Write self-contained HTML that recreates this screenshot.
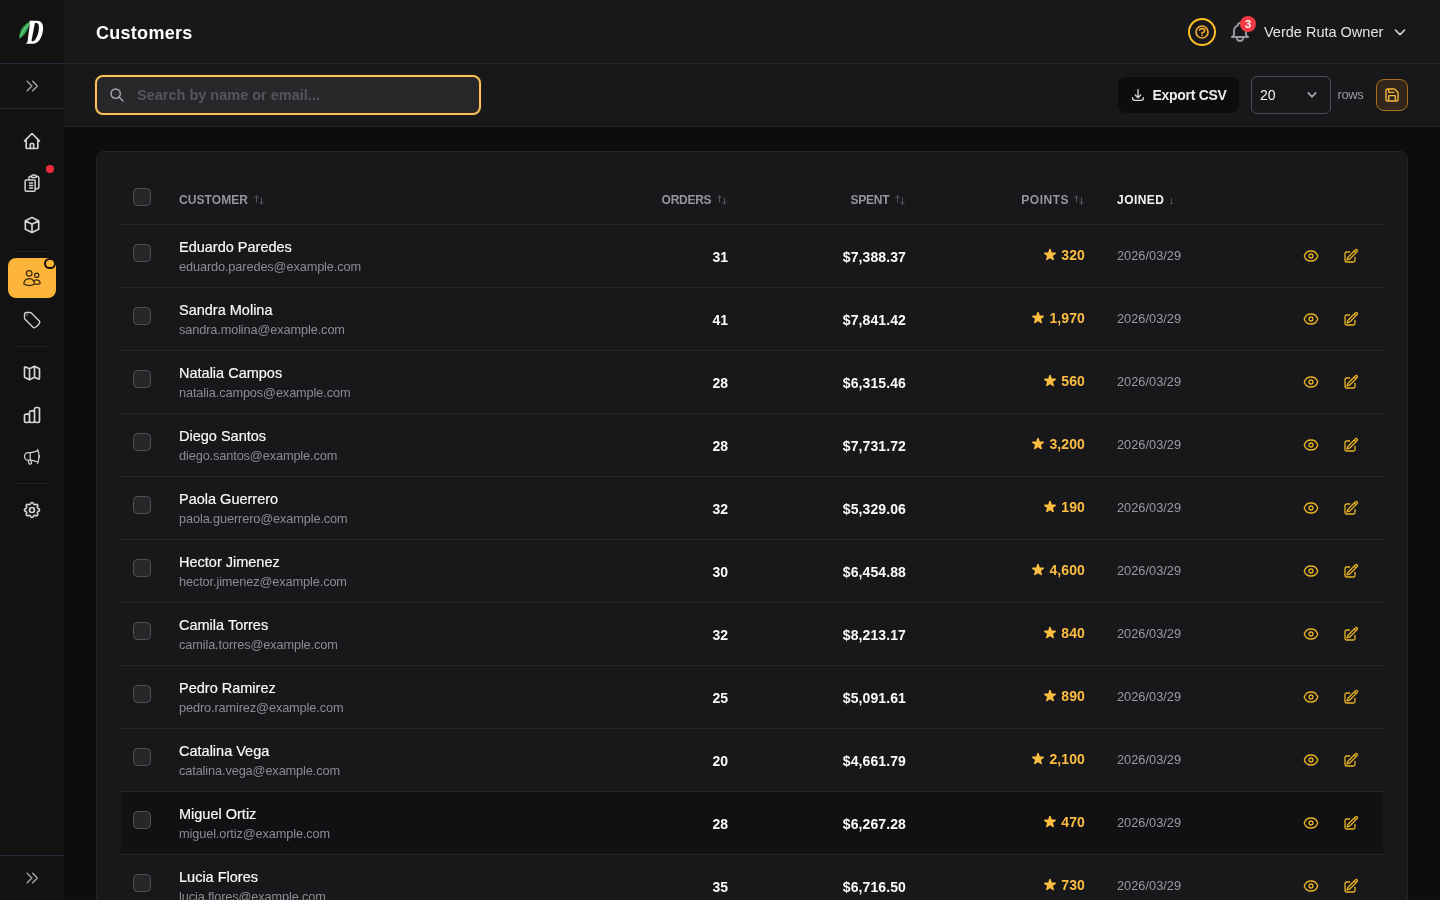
<!DOCTYPE html>
<html lang="en">
<head>
<meta charset="utf-8">
<title>Customers</title>
<style>
*{box-sizing:border-box;margin:0;padding:0}
html,body{width:1440px;height:900px;overflow:hidden;background:#0d0d0f;color:#fafafa;font-family:"Liberation Sans",sans-serif;}
#app{position:absolute;left:0;top:0;width:1440px;height:900px;overflow:hidden;will-change:transform}
svg{display:block}
.ico{fill:none;stroke:currentColor;stroke-width:1.5;stroke-linecap:round;stroke-linejoin:round}

/* ---------- sidebar ---------- */
#side{position:absolute;left:0;top:0;width:64px;height:900px;background:#121212;}
#side .logo{position:absolute;left:0;top:0;width:64px;height:64px;border-bottom:1px solid #202b37;}
#side .exp{position:absolute;left:0;top:64px;width:64px;height:45px;border-bottom:1px solid #202b37;color:#a6a6aa}
#side .exp svg{position:absolute;left:24px;top:14px}
#side .exp2{position:absolute;left:0;top:855px;width:64px;height:45px;border-top:1px solid #202b37;color:#a6a6aa}
#side .exp2 svg{position:absolute;left:24px;top:14px}
.nav{position:absolute;left:8px;width:48px;height:40px;border-radius:8px;color:#d4d4d8}
.nav svg{position:absolute;left:14px;top:10px}
.nav.act{background:#fcb43b;color:#3a2c12}
.sep{position:absolute;left:16px;width:32px;height:1px;background:#222226}
.rdot{position:absolute;left:46px;top:165px;width:8px;height:8px;border-radius:50%;background:#f02c3c}
.adot{position:absolute;left:44px;top:257.8px;width:11.5px;height:11.5px;border-radius:50%;background:#fcb43b;border:2px solid #17130a}

/* ---------- header ---------- */
#head{position:absolute;left:64px;top:0;width:1376px;height:64px;background:#18181b;border-bottom:1px solid #27272a}
#head h1{position:absolute;left:32px;top:21px;font-size:18px;line-height:24px;font-weight:700;color:#fff;white-space:nowrap;letter-spacing:.28px}
.help{position:absolute;left:1124px;top:18px;width:28px;height:28px;border-radius:50%;border:2px solid #fbbf24;color:#f0a92e}
.help svg{position:absolute;left:4px;top:4px}
.bell{position:absolute;left:1164px;top:20px;color:#96969e}
.badge{position:absolute;left:1176px;top:16px;width:16px;height:16px;border-radius:50%;background:#f03a44;color:#fff;font-size:11px;font-weight:700;line-height:16px;text-align:center}
.user{position:absolute;left:1200px;top:22px;font-size:14.5px;line-height:20px;color:#e4e4e7;white-space:nowrap}
.uchev{position:absolute;left:1328px;top:23.7px;color:#d4d4d8}

/* ---------- toolbar ---------- */
#tool{position:absolute;left:64px;top:64px;width:1376px;height:63px;background:#18181b;border-bottom:1px solid #27272a}
.search{position:absolute;left:31px;top:11px;width:386px;height:40px;border-radius:8px;border:2px solid #f2c263;background:#28282b;box-shadow:0 0 0 1px rgba(70,35,0,.55),inset 0 0 0 1px rgba(70,35,0,.45)}
.search svg{position:absolute;left:11.5px;top:10px;color:#a6a6ae}
.search span{position:absolute;left:40px;top:8px;font-size:14.5px;line-height:20px;font-weight:700;color:#55555e;white-space:nowrap}
.export{position:absolute;left:1054px;top:13px;width:121px;height:36px;border-radius:8px;background:#0d0d0f;color:#fff}
.export svg{position:absolute;left:12px;top:10px;color:#d8d8dc}
.export span{position:absolute;left:34.5px;top:8px;font-size:14px;line-height:20px;font-weight:700;white-space:nowrap;letter-spacing:-.3px;color:#ececee}
.sel{position:absolute;left:1187px;top:12px;width:80px;height:38px;border-radius:6px;border:1px solid #4a4a52;background:#18181b;color:#f4f4f5}
.sel span{position:absolute;left:8px;top:8px;font-size:14px;line-height:20px}
.sel svg{position:absolute;left:54px;top:12px;color:#a1a1aa}
.rows{position:absolute;left:1273.5px;top:22px;letter-spacing:-.4px;font-size:13px;line-height:18px;color:#9a9aa3}
.save{position:absolute;left:1312px;top:15px;width:32px;height:32px;border-radius:8px;border:1px solid #a8721c;background:#33261a;color:#f7b53b}
.save svg{position:absolute;left:7px;top:7px}

/* ---------- card/table ---------- */
#card{position:absolute;left:96px;top:151px;width:1312px;height:800px;background:#18181b;border:1px solid #242428;border-radius:8px}
.row{position:absolute;left:24px;width:1262px;height:63px;border-bottom:1px solid #27272a}
.row.hov{background:#111113}
.hrow{position:absolute;left:24px;top:24px;width:1262px;height:49px;border-bottom:1px solid #27272a}
.cb{position:absolute;left:12px;width:18px;height:18px;border-radius:4.5px;background:#27272a;border:1px solid #505057}
.row .cb{top:19px}
.hrow .cb{top:12px}
.th{position:absolute;top:16px;font-size:12px;line-height:16px;font-weight:700;color:#9494a0;white-space:nowrap}
.si{position:absolute;top:18.3px;color:#56565f}
.th.on{color:#f4f4f5}
.r{text-align:right}
.nm{position:absolute;left:58px;top:12px;font-size:14.5px;line-height:20px;color:#fafafa;white-space:nowrap;-webkit-text-stroke:.18px #fafafa}
.em{position:absolute;left:58px;top:33.5px;font-size:12.75px;line-height:16px;letter-spacing:-.12px;color:#8b8b95;white-space:nowrap}
.num{position:absolute;top:22px;font-size:14px;line-height:20px;font-weight:700;color:#fafafa;white-space:nowrap;text-align:right}
.ord{right:655px}
.spn{right:477px;letter-spacing:.1px}
.pts{right:298px;top:20px;color:#fcbd40;letter-spacing:.1px}
.pts svg{position:absolute;left:-19.7px;top:2.2px}
.dt{position:absolute;left:996px;top:22.6px;font-size:12.8px;line-height:16px;color:#9a9aa3;white-space:nowrap}
.eye{position:absolute;left:1182px;top:23px;color:#e8b323}
.edt{position:absolute;left:1222px;top:23px;color:#e8b323}
.dn{position:absolute;left:1047.8px;top:16px;font-size:11px;line-height:16px;color:#7c7c86}
</style>
</head>
<body>
<div id="app">
<div id="side">
<div class="logo"><svg width="64" height="64" viewBox="0 0 64 64"><path d="M19.2 38.8C18.8 30.5 22.8 22.8 33.2 20.8C30.4 23 29.2 26.2 27.8 29.4C26.2 33 23.4 36.4 19.2 38.8Z" fill="#1b7a33"/><path d="M20 37.4C20.6 31 24.4 25 31.4 22C29.2 24.2 28.2 26.8 27 29.4C25.6 32.4 23.4 35.2 20 37.4Z" fill="#3cae58"/><path d="M20.2 37.2C22 31.6 25.4 25.8 31 21.8" fill="none" stroke="#7fe096" stroke-width="1.2" stroke-linecap="round" opacity=".7"/><path fill="#fff" fill-rule="evenodd" d="M29.6 20.8H37C41.3 20.8 43.5 24 43.1 29C42.5 37 38.6 43.8 33 43.8H26.1L26.3 42.8L27.4 42.5L30.1 22.1L29.4 21.7ZM34.9 23.1L31.6 40.2C31.5 40.9 31.8 41.3 32.5 41.3C35.8 41.3 38.5 34 38.9 28.4C39.1 25.2 38.4 23.1 36.7 23.1Z"/></svg>
</div>
<div class="exp"><svg class="ico" width="16" height="16" viewBox="0 0 16 16" style="stroke-width:1.4"><path d="M3.2 3.25 7.9 8 3.2 12.75M8.7 3.25 13.4 8 8.7 12.75"/></svg></div>
<div class="nav" style="top:121px"><svg class="ico" width="20" height="20" viewBox="0 0 24 24" style="stroke-width:2"><path d="M3 12l2-2m0 0l7-7 7 7M5 10v10a1 1 0 001 1h3m10-11l2 2m-2-2v10a1 1 0 01-1 1h-3m-6 0a1 1 0 001-1v-4a1 1 0 011-1h2a1 1 0 011 1v4a1 1 0 001 1m-6 0h6"/></svg></div>
<div class="nav" style="top:163px"><svg class="ico" width="20" height="20" viewBox="0 0 24 24" style="stroke-width:1.8"><path d="M9 12h3.75M9 15h3.75M9 18h3.75m3 .75H18a2.25 2.25 0 0 0 2.25-2.25V6.108c0-1.135-.845-2.098-1.976-2.192a48.424 48.424 0 0 0-1.123-.08m-5.801 0c-.065.21-.1.433-.1.664 0 .414.336.75.75.75h4.5a.75.75 0 0 0 .75-.75 2.25 2.25 0 0 0-.1-.664m-5.8 0A2.251 2.251 0 0 1 13.5 2.25H15c1.012 0 1.867.668 2.15 1.586m-5.8 0c-.376.023-.75.05-1.124.08C9.095 4.01 8.25 4.973 8.25 6.108V8.25m0 0H4.875c-.621 0-1.125.504-1.125 1.125v11.25c0 .621.504 1.125 1.125 1.125h9.75c.621 0 1.125-.504 1.125-1.125V9.375c0-.621-.504-1.125-1.125-1.125H8.25Z"/></svg></div>
<div class="nav" style="top:205px"><svg class="ico" width="20" height="20" viewBox="0 0 24 24" style="stroke-width:2"><path d="M20 7l-8-4-8 4m16 0l-8 4m8-4v10l-8 4m0-10L4 7m8 4v10M4 7v10l8 4"/></svg></div>
<div class="nav act" style="top:258px"><svg class="ico" width="20" height="20" viewBox="0 0 24 24" style="stroke-width:1.5"><path d="M15 19.128a9.38 9.38 0 0 0 2.625.372 9.337 9.337 0 0 0 4.121-.952 4.125 4.125 0 0 0-7.533-2.493M15 19.128v-.003c0-1.113-.285-2.16-.786-3.07M15 19.128v.106A12.318 12.318 0 0 1 8.624 21c-2.331 0-4.512-.645-6.374-1.766l-.001-.109a6.375 6.375 0 0 1 11.964-3.07M12 6.375a3.375 3.375 0 1 1-6.75 0 3.375 3.375 0 0 1 6.75 0Zm8.25 2.25a2.625 2.625 0 1 1-5.25 0 2.625 2.625 0 0 1 5.25 0Z"/></svg></div>
<div class="nav" style="top:300px"><svg class="ico" width="20" height="20" viewBox="0 0 24 24" style="stroke-width:1.6"><path d="M9.568 3H5.25A2.25 2.25 0 0 0 3 5.25v4.318c0 .597.237 1.17.659 1.591l9.581 9.581c.699.699 1.78.872 2.607.33a18.095 18.095 0 0 0 5.223-5.223c.542-.827.369-1.908-.33-2.607L11.16 3.66A2.25 2.25 0 0 0 9.568 3ZM6 6h.008v.008H6V6Z"/></svg></div>
<div class="nav" style="top:353px"><svg class="ico" width="20" height="20" viewBox="0 0 24 24" style="stroke-width:2"><path d="M9 20l-5.447-2.724A1 1 0 013 16.382V5.618a1 1 0 011.447-.894L9 7m0 13l6-3m-6 3V7m6 10l4.553 2.276A1 1 0 0021 18.382V7.618a1 1 0 00-.553-.894L15 4m0 13V4m0 0L9 7"/></svg></div>
<div class="nav" style="top:395px"><svg class="ico" width="20" height="20" viewBox="0 0 24 24" style="stroke-width:2"><path d="M9 19v-6a2 2 0 00-2-2H5a2 2 0 00-2 2v6a2 2 0 002 2h2a2 2 0 002-2zm0 0V9a2 2 0 012-2h2a2 2 0 012 2v10m-6 0a2 2 0 002 2h2a2 2 0 002-2m0 0V5a2 2 0 012-2h2a2 2 0 012 2v14a2 2 0 01-2 2h-2a2 2 0 01-2-2z"/></svg></div>
<div class="nav" style="top:437px"><svg class="ico" width="20" height="20" viewBox="0 0 24 24" style="stroke-width:1.5"><path d="M10.34 15.84c-.688-.06-1.386-.09-2.09-.09H7.5a4.5 4.5 0 1 1 0-9h.75c.704 0 1.402-.03 2.09-.09m0 9.18c.253.962.584 1.892.985 2.783.247.55.06 1.21-.463 1.511l-.657.38c-.551.318-1.26.117-1.527-.461a20.845 20.845 0 0 1-1.44-4.282m3.102.069a18.03 18.03 0 0 1-.59-4.59c0-1.586.205-3.124.59-4.59m0 9.18a23.848 23.848 0 0 1 8.835 2.535M10.34 6.66a23.847 23.847 0 0 0 8.835-2.535m0 0A23.74 23.74 0 0 0 18.795 3m.38 1.125a23.91 23.91 0 0 1 1.014 5.395m-1.014 8.855c-.118.38-.245.754-.38 1.125m.38-1.125a23.91 23.91 0 0 0 1.014-5.395m0-3.46c.495.413.811 1.035.811 1.73 0 .695-.316 1.317-.811 1.73m0-3.46a24.347 24.347 0 0 1 0 3.46"/></svg></div>
<div class="nav" style="top:490px"><svg class="ico" width="20" height="20" viewBox="0 0 24 24" style="stroke-width:2"><path d="M10.325 4.317c.426-1.756 2.924-1.756 3.35 0a1.724 1.724 0 002.573 1.066c1.543-.94 3.31.826 2.37 2.37a1.724 1.724 0 001.065 2.572c1.756.426 1.756 2.924 0 3.35a1.724 1.724 0 00-1.066 2.573c.94 1.543-.826 3.31-2.37 2.37a1.724 1.724 0 00-2.572 1.065c-.426 1.756-2.924 1.756-3.35 0a1.724 1.724 0 00-2.573-1.066c-1.543.94-3.31-.826-2.37-2.37a1.724 1.724 0 00-1.065-2.572c-1.756-.426-1.756-2.924 0-3.35a1.724 1.724 0 001.066-2.573c-.94-1.543.826-3.31 2.37-2.37.996.608 2.296.07 2.572-1.065zM15 12a3 3 0 11-6 0 3 3 0 016 0z"/></svg></div>
<div class="sep" style="top:251px"></div>
<div class="sep" style="top:346px"></div>
<div class="sep" style="top:483px"></div>
<div class="rdot"></div><div class="adot"></div>
<div class="exp2"><svg class="ico" width="16" height="16" viewBox="0 0 16 16" style="stroke-width:1.4"><path d="M3.2 3.25 7.9 8 3.2 12.75M8.7 3.25 13.4 8 8.7 12.75"/></svg></div>
</div>
<div id="head">
<h1>Customers</h1>
<div class="help"><svg class="ico" width="16" height="16" viewBox="0 0 24 24" style="stroke-width:2.6"><path d="M8.228 9c.549-1.165 2.03-2 3.772-2 2.21 0 4 1.343 4 3 0 1.400-1.278 2.575-3.006 2.907-.542.104-.994.54-.994 1.093m0 3h.01M21 12a9 9 0 11-18 0 9 9 0 0118 0z"/></svg></div>
<div class="bell"><svg class="ico" width="24" height="24" viewBox="0 0 24 24" style="stroke-width:2"><path d="M15 17h5l-1.405-1.405A2.032 2.032 0 0118 14.158V11a6.002 6.002 0 00-4-5.659V5a2 2 0 10-4 0v.341C7.67 6.165 6 8.388 6 11v3.159c0 .538-.214 1.055-.595 1.436L4 17h5m6 0v1a3 3 0 11-6 0v-1m6 0H9"/></svg></div>
<div class="badge">3</div>
<div class="user">Verde Ruta Owner</div>
<div class="uchev"><svg class="ico" width="16" height="16" viewBox="0 0 24 24" style="stroke-width:2.3"><path d="M19 9l-7 7-7-7"/></svg></div>
</div>
<div id="tool">
<div class="search"><svg class="ico" width="16" height="16" viewBox="0 0 24 24" style="stroke-width:2.1"><path d="M21 21l-6-6m2-5a7 7 0 11-14 0 7 7 0 0114 0z"/></svg><span>Search by name or email...</span></div>
<div class="export"><svg class="ico" width="16" height="16" viewBox="0 0 24 24" style="stroke-width:2"><path d="M4 16v1a3 3 0 003 3h10a3 3 0 003-3v-1m-4-4l-4 4m0 0l-4-4m4 4V4"/></svg><span>Export CSV</span></div>
<div class="sel"><span>20</span><svg class="ico" width="12" height="12" viewBox="0 0 12 12" style="stroke-width:1.9"><path d="M2.3 3.9 6 7.8 9.7 3.9"/></svg></div>
<div class="rows">rows</div>
<div class="save"><svg class="ico" width="16" height="16" viewBox="0 0 24 24" style="stroke-width:2.1"><path d="M15.2 3a2 2 0 0 1 1.4.6l3.8 3.8a2 2 0 0 1 .6 1.4V19a2 2 0 0 1-2 2H5a2 2 0 0 1-2-2V5a2 2 0 0 1 2-2zM17 21v-7a1 1 0 0 0-1-1H8a1 1 0 0 0-1 1v7M7 3v4a1 1 0 0 0 1 1h7"/></svg></div>
</div>
<div id="card">
<div class="hrow"><div class="cb"></div>
<div class="th" style="left:58.00px;letter-spacing:0.08px">CUSTOMER</div><div class="si" style="left:131.75px"><svg class="ico" width="12" height="12" viewBox="0 0 24 24" style="stroke-width:2"><path d="M7 16V4m0 0L3 8m4-4l4 4m6 0v12m0 0l4-4m-4 4l-4-4"/></svg></div>
<div class="th" style="right:671.67px;letter-spacing:-0.27px">ORDERS</div><div class="si" style="left:595.00px"><svg class="ico" width="12" height="12" viewBox="0 0 24 24" style="stroke-width:2"><path d="M7 16V4m0 0L3 8m4-4l4 4m6 0v12m0 0l4-4m-4 4l-4-4"/></svg></div>
<div class="th" style="right:493.75px;letter-spacing:-0.25px">SPENT</div><div class="si" style="left:773.00px"><svg class="ico" width="12" height="12" viewBox="0 0 24 24" style="stroke-width:2"><path d="M7 16V4m0 0L3 8m4-4l4 4m6 0v12m0 0l4-4m-4 4l-4-4"/></svg></div>
<div class="th" style="right:314.00px;letter-spacing:0.5px">POINTS</div><div class="si" style="left:952.00px"><svg class="ico" width="12" height="12" viewBox="0 0 24 24" style="stroke-width:2"><path d="M7 16V4m0 0L3 8m4-4l4 4m6 0v12m0 0l4-4m-4 4l-4-4"/></svg></div>
<div class="th on" style="left:996.00px;letter-spacing:0.46px">JOINED</div><div class="dn">&#8595;</div>
</div>
<div class="row" style="top:73px"><div class="cb"></div><div class="nm">Eduardo Paredes</div><div class="em">eduardo.paredes@example.com</div><div class="num ord">31</div><div class="num spn">$7,388.37</div><div class="num pts"><svg width="16" height="16" viewBox="0 0 20 20" fill="currentColor"><path d="M9.049 2.927c.3-.921 1.603-.921 1.902 0l1.07 3.292a1 1 0 00.95.69h3.462c.969 0 1.371 1.24.588 1.81l-2.8 2.034a1 1 0 00-.364 1.118l1.07 3.292c.3.921-.755 1.688-1.54 1.118l-2.8-2.034a1 1 0 00-1.175 0l-2.8 2.034c-.784.57-1.838-.197-1.539-1.118l1.07-3.292a1 1 0 00-.364-1.118L2.98 8.72c-.783-.57-.38-1.81.588-1.81h3.461a1 1 0 00.951-.69l1.07-3.292z"/></svg>320</div><div class="dt">2026/03/29</div><div class="eye"><svg class="ico" width="16" height="16" viewBox="0 0 24 24" style="stroke-width:1.95"><path d="M2.036 12.322a1.012 1.012 0 0 1 0-.639C3.423 7.51 7.36 4.5 12 4.5c4.638 0 8.573 3.007 9.963 7.178.07.207.07.431 0 .639C20.577 16.49 16.64 19.5 12 19.5c-4.638 0-8.573-3.007-9.963-7.178ZM15 12a3 3 0 1 1-6 0 3 3 0 0 1 6 0Z"/></svg></div><div class="edt"><svg class="ico" width="16" height="16" viewBox="0 0 24 24" style="stroke-width:1.95"><path d="m16.862 4.487 1.687-1.688a1.875 1.875 0 1 1 2.652 2.652L10.582 16.07a4.5 4.5 0 0 1-1.897 1.13L6 18l.8-2.685a4.5 4.5 0 0 1 1.13-1.897l8.932-8.931Zm0 0L19.5 7.125M18 14v4.75A2.25 2.25 0 0 1 15.75 21H5.25A2.25 2.25 0 0 1 3 18.75V8.25A2.25 2.25 0 0 1 5.25 6H10"/></svg></div></div>
<div class="row" style="top:136px"><div class="cb"></div><div class="nm">Sandra Molina</div><div class="em">sandra.molina@example.com</div><div class="num ord">41</div><div class="num spn">$7,841.42</div><div class="num pts"><svg width="16" height="16" viewBox="0 0 20 20" fill="currentColor"><path d="M9.049 2.927c.3-.921 1.603-.921 1.902 0l1.07 3.292a1 1 0 00.95.69h3.462c.969 0 1.371 1.24.588 1.81l-2.8 2.034a1 1 0 00-.364 1.118l1.07 3.292c.3.921-.755 1.688-1.54 1.118l-2.8-2.034a1 1 0 00-1.175 0l-2.8 2.034c-.784.57-1.838-.197-1.539-1.118l1.07-3.292a1 1 0 00-.364-1.118L2.98 8.72c-.783-.57-.38-1.81.588-1.81h3.461a1 1 0 00.951-.69l1.07-3.292z"/></svg>1,970</div><div class="dt">2026/03/29</div><div class="eye"><svg class="ico" width="16" height="16" viewBox="0 0 24 24" style="stroke-width:1.95"><path d="M2.036 12.322a1.012 1.012 0 0 1 0-.639C3.423 7.51 7.36 4.5 12 4.5c4.638 0 8.573 3.007 9.963 7.178.07.207.07.431 0 .639C20.577 16.49 16.64 19.5 12 19.5c-4.638 0-8.573-3.007-9.963-7.178ZM15 12a3 3 0 1 1-6 0 3 3 0 0 1 6 0Z"/></svg></div><div class="edt"><svg class="ico" width="16" height="16" viewBox="0 0 24 24" style="stroke-width:1.95"><path d="m16.862 4.487 1.687-1.688a1.875 1.875 0 1 1 2.652 2.652L10.582 16.07a4.5 4.5 0 0 1-1.897 1.13L6 18l.8-2.685a4.5 4.5 0 0 1 1.13-1.897l8.932-8.931Zm0 0L19.5 7.125M18 14v4.75A2.25 2.25 0 0 1 15.75 21H5.25A2.25 2.25 0 0 1 3 18.75V8.25A2.25 2.25 0 0 1 5.25 6H10"/></svg></div></div>
<div class="row" style="top:199px"><div class="cb"></div><div class="nm">Natalia Campos</div><div class="em">natalia.campos@example.com</div><div class="num ord">28</div><div class="num spn">$6,315.46</div><div class="num pts"><svg width="16" height="16" viewBox="0 0 20 20" fill="currentColor"><path d="M9.049 2.927c.3-.921 1.603-.921 1.902 0l1.07 3.292a1 1 0 00.95.69h3.462c.969 0 1.371 1.24.588 1.81l-2.8 2.034a1 1 0 00-.364 1.118l1.07 3.292c.3.921-.755 1.688-1.54 1.118l-2.8-2.034a1 1 0 00-1.175 0l-2.8 2.034c-.784.57-1.838-.197-1.539-1.118l1.07-3.292a1 1 0 00-.364-1.118L2.98 8.72c-.783-.57-.38-1.81.588-1.81h3.461a1 1 0 00.951-.69l1.07-3.292z"/></svg>560</div><div class="dt">2026/03/29</div><div class="eye"><svg class="ico" width="16" height="16" viewBox="0 0 24 24" style="stroke-width:1.95"><path d="M2.036 12.322a1.012 1.012 0 0 1 0-.639C3.423 7.51 7.36 4.5 12 4.5c4.638 0 8.573 3.007 9.963 7.178.07.207.07.431 0 .639C20.577 16.49 16.64 19.5 12 19.5c-4.638 0-8.573-3.007-9.963-7.178ZM15 12a3 3 0 1 1-6 0 3 3 0 0 1 6 0Z"/></svg></div><div class="edt"><svg class="ico" width="16" height="16" viewBox="0 0 24 24" style="stroke-width:1.95"><path d="m16.862 4.487 1.687-1.688a1.875 1.875 0 1 1 2.652 2.652L10.582 16.07a4.5 4.5 0 0 1-1.897 1.13L6 18l.8-2.685a4.5 4.5 0 0 1 1.13-1.897l8.932-8.931Zm0 0L19.5 7.125M18 14v4.75A2.25 2.25 0 0 1 15.75 21H5.25A2.25 2.25 0 0 1 3 18.75V8.25A2.25 2.25 0 0 1 5.25 6H10"/></svg></div></div>
<div class="row" style="top:262px"><div class="cb"></div><div class="nm">Diego Santos</div><div class="em">diego.santos@example.com</div><div class="num ord">28</div><div class="num spn">$7,731.72</div><div class="num pts"><svg width="16" height="16" viewBox="0 0 20 20" fill="currentColor"><path d="M9.049 2.927c.3-.921 1.603-.921 1.902 0l1.07 3.292a1 1 0 00.95.69h3.462c.969 0 1.371 1.24.588 1.81l-2.8 2.034a1 1 0 00-.364 1.118l1.07 3.292c.3.921-.755 1.688-1.54 1.118l-2.8-2.034a1 1 0 00-1.175 0l-2.8 2.034c-.784.57-1.838-.197-1.539-1.118l1.07-3.292a1 1 0 00-.364-1.118L2.98 8.72c-.783-.57-.38-1.81.588-1.81h3.461a1 1 0 00.951-.69l1.07-3.292z"/></svg>3,200</div><div class="dt">2026/03/29</div><div class="eye"><svg class="ico" width="16" height="16" viewBox="0 0 24 24" style="stroke-width:1.95"><path d="M2.036 12.322a1.012 1.012 0 0 1 0-.639C3.423 7.51 7.36 4.5 12 4.5c4.638 0 8.573 3.007 9.963 7.178.07.207.07.431 0 .639C20.577 16.49 16.64 19.5 12 19.5c-4.638 0-8.573-3.007-9.963-7.178ZM15 12a3 3 0 1 1-6 0 3 3 0 0 1 6 0Z"/></svg></div><div class="edt"><svg class="ico" width="16" height="16" viewBox="0 0 24 24" style="stroke-width:1.95"><path d="m16.862 4.487 1.687-1.688a1.875 1.875 0 1 1 2.652 2.652L10.582 16.07a4.5 4.5 0 0 1-1.897 1.13L6 18l.8-2.685a4.5 4.5 0 0 1 1.13-1.897l8.932-8.931Zm0 0L19.5 7.125M18 14v4.75A2.25 2.25 0 0 1 15.75 21H5.25A2.25 2.25 0 0 1 3 18.75V8.25A2.25 2.25 0 0 1 5.25 6H10"/></svg></div></div>
<div class="row" style="top:325px"><div class="cb"></div><div class="nm">Paola Guerrero</div><div class="em">paola.guerrero@example.com</div><div class="num ord">32</div><div class="num spn">$5,329.06</div><div class="num pts"><svg width="16" height="16" viewBox="0 0 20 20" fill="currentColor"><path d="M9.049 2.927c.3-.921 1.603-.921 1.902 0l1.07 3.292a1 1 0 00.95.69h3.462c.969 0 1.371 1.24.588 1.81l-2.8 2.034a1 1 0 00-.364 1.118l1.07 3.292c.3.921-.755 1.688-1.54 1.118l-2.8-2.034a1 1 0 00-1.175 0l-2.8 2.034c-.784.57-1.838-.197-1.539-1.118l1.07-3.292a1 1 0 00-.364-1.118L2.98 8.72c-.783-.57-.38-1.81.588-1.81h3.461a1 1 0 00.951-.69l1.07-3.292z"/></svg>190</div><div class="dt">2026/03/29</div><div class="eye"><svg class="ico" width="16" height="16" viewBox="0 0 24 24" style="stroke-width:1.95"><path d="M2.036 12.322a1.012 1.012 0 0 1 0-.639C3.423 7.51 7.36 4.5 12 4.5c4.638 0 8.573 3.007 9.963 7.178.07.207.07.431 0 .639C20.577 16.49 16.64 19.5 12 19.5c-4.638 0-8.573-3.007-9.963-7.178ZM15 12a3 3 0 1 1-6 0 3 3 0 0 1 6 0Z"/></svg></div><div class="edt"><svg class="ico" width="16" height="16" viewBox="0 0 24 24" style="stroke-width:1.95"><path d="m16.862 4.487 1.687-1.688a1.875 1.875 0 1 1 2.652 2.652L10.582 16.07a4.5 4.5 0 0 1-1.897 1.13L6 18l.8-2.685a4.5 4.5 0 0 1 1.13-1.897l8.932-8.931Zm0 0L19.5 7.125M18 14v4.75A2.25 2.25 0 0 1 15.75 21H5.25A2.25 2.25 0 0 1 3 18.75V8.25A2.25 2.25 0 0 1 5.25 6H10"/></svg></div></div>
<div class="row" style="top:388px"><div class="cb"></div><div class="nm">Hector Jimenez</div><div class="em">hector.jimenez@example.com</div><div class="num ord">30</div><div class="num spn">$6,454.88</div><div class="num pts"><svg width="16" height="16" viewBox="0 0 20 20" fill="currentColor"><path d="M9.049 2.927c.3-.921 1.603-.921 1.902 0l1.07 3.292a1 1 0 00.95.69h3.462c.969 0 1.371 1.24.588 1.81l-2.8 2.034a1 1 0 00-.364 1.118l1.07 3.292c.3.921-.755 1.688-1.54 1.118l-2.8-2.034a1 1 0 00-1.175 0l-2.8 2.034c-.784.57-1.838-.197-1.539-1.118l1.07-3.292a1 1 0 00-.364-1.118L2.98 8.72c-.783-.57-.38-1.81.588-1.81h3.461a1 1 0 00.951-.69l1.07-3.292z"/></svg>4,600</div><div class="dt">2026/03/29</div><div class="eye"><svg class="ico" width="16" height="16" viewBox="0 0 24 24" style="stroke-width:1.95"><path d="M2.036 12.322a1.012 1.012 0 0 1 0-.639C3.423 7.51 7.36 4.5 12 4.5c4.638 0 8.573 3.007 9.963 7.178.07.207.07.431 0 .639C20.577 16.49 16.64 19.5 12 19.5c-4.638 0-8.573-3.007-9.963-7.178ZM15 12a3 3 0 1 1-6 0 3 3 0 0 1 6 0Z"/></svg></div><div class="edt"><svg class="ico" width="16" height="16" viewBox="0 0 24 24" style="stroke-width:1.95"><path d="m16.862 4.487 1.687-1.688a1.875 1.875 0 1 1 2.652 2.652L10.582 16.07a4.5 4.5 0 0 1-1.897 1.13L6 18l.8-2.685a4.5 4.5 0 0 1 1.13-1.897l8.932-8.931Zm0 0L19.5 7.125M18 14v4.75A2.25 2.25 0 0 1 15.75 21H5.25A2.25 2.25 0 0 1 3 18.75V8.25A2.25 2.25 0 0 1 5.25 6H10"/></svg></div></div>
<div class="row" style="top:451px"><div class="cb"></div><div class="nm">Camila Torres</div><div class="em">camila.torres@example.com</div><div class="num ord">32</div><div class="num spn">$8,213.17</div><div class="num pts"><svg width="16" height="16" viewBox="0 0 20 20" fill="currentColor"><path d="M9.049 2.927c.3-.921 1.603-.921 1.902 0l1.07 3.292a1 1 0 00.95.69h3.462c.969 0 1.371 1.24.588 1.81l-2.8 2.034a1 1 0 00-.364 1.118l1.07 3.292c.3.921-.755 1.688-1.54 1.118l-2.8-2.034a1 1 0 00-1.175 0l-2.8 2.034c-.784.57-1.838-.197-1.539-1.118l1.07-3.292a1 1 0 00-.364-1.118L2.98 8.72c-.783-.57-.38-1.81.588-1.81h3.461a1 1 0 00.951-.69l1.07-3.292z"/></svg>840</div><div class="dt">2026/03/29</div><div class="eye"><svg class="ico" width="16" height="16" viewBox="0 0 24 24" style="stroke-width:1.95"><path d="M2.036 12.322a1.012 1.012 0 0 1 0-.639C3.423 7.51 7.36 4.5 12 4.5c4.638 0 8.573 3.007 9.963 7.178.07.207.07.431 0 .639C20.577 16.49 16.64 19.5 12 19.5c-4.638 0-8.573-3.007-9.963-7.178ZM15 12a3 3 0 1 1-6 0 3 3 0 0 1 6 0Z"/></svg></div><div class="edt"><svg class="ico" width="16" height="16" viewBox="0 0 24 24" style="stroke-width:1.95"><path d="m16.862 4.487 1.687-1.688a1.875 1.875 0 1 1 2.652 2.652L10.582 16.07a4.5 4.5 0 0 1-1.897 1.13L6 18l.8-2.685a4.5 4.5 0 0 1 1.13-1.897l8.932-8.931Zm0 0L19.5 7.125M18 14v4.75A2.25 2.25 0 0 1 15.75 21H5.25A2.25 2.25 0 0 1 3 18.75V8.25A2.25 2.25 0 0 1 5.25 6H10"/></svg></div></div>
<div class="row" style="top:514px"><div class="cb"></div><div class="nm">Pedro Ramirez</div><div class="em">pedro.ramirez@example.com</div><div class="num ord">25</div><div class="num spn">$5,091.61</div><div class="num pts"><svg width="16" height="16" viewBox="0 0 20 20" fill="currentColor"><path d="M9.049 2.927c.3-.921 1.603-.921 1.902 0l1.07 3.292a1 1 0 00.95.69h3.462c.969 0 1.371 1.24.588 1.81l-2.8 2.034a1 1 0 00-.364 1.118l1.07 3.292c.3.921-.755 1.688-1.54 1.118l-2.8-2.034a1 1 0 00-1.175 0l-2.8 2.034c-.784.57-1.838-.197-1.539-1.118l1.07-3.292a1 1 0 00-.364-1.118L2.98 8.72c-.783-.57-.38-1.81.588-1.81h3.461a1 1 0 00.951-.69l1.07-3.292z"/></svg>890</div><div class="dt">2026/03/29</div><div class="eye"><svg class="ico" width="16" height="16" viewBox="0 0 24 24" style="stroke-width:1.95"><path d="M2.036 12.322a1.012 1.012 0 0 1 0-.639C3.423 7.51 7.36 4.5 12 4.5c4.638 0 8.573 3.007 9.963 7.178.07.207.07.431 0 .639C20.577 16.49 16.64 19.5 12 19.5c-4.638 0-8.573-3.007-9.963-7.178ZM15 12a3 3 0 1 1-6 0 3 3 0 0 1 6 0Z"/></svg></div><div class="edt"><svg class="ico" width="16" height="16" viewBox="0 0 24 24" style="stroke-width:1.95"><path d="m16.862 4.487 1.687-1.688a1.875 1.875 0 1 1 2.652 2.652L10.582 16.07a4.5 4.5 0 0 1-1.897 1.13L6 18l.8-2.685a4.5 4.5 0 0 1 1.13-1.897l8.932-8.931Zm0 0L19.5 7.125M18 14v4.75A2.25 2.25 0 0 1 15.75 21H5.25A2.25 2.25 0 0 1 3 18.75V8.25A2.25 2.25 0 0 1 5.25 6H10"/></svg></div></div>
<div class="row" style="top:577px"><div class="cb"></div><div class="nm">Catalina Vega</div><div class="em">catalina.vega@example.com</div><div class="num ord">20</div><div class="num spn">$4,661.79</div><div class="num pts"><svg width="16" height="16" viewBox="0 0 20 20" fill="currentColor"><path d="M9.049 2.927c.3-.921 1.603-.921 1.902 0l1.07 3.292a1 1 0 00.95.69h3.462c.969 0 1.371 1.24.588 1.81l-2.8 2.034a1 1 0 00-.364 1.118l1.07 3.292c.3.921-.755 1.688-1.54 1.118l-2.8-2.034a1 1 0 00-1.175 0l-2.8 2.034c-.784.57-1.838-.197-1.539-1.118l1.07-3.292a1 1 0 00-.364-1.118L2.98 8.72c-.783-.57-.38-1.81.588-1.81h3.461a1 1 0 00.951-.69l1.07-3.292z"/></svg>2,100</div><div class="dt">2026/03/29</div><div class="eye"><svg class="ico" width="16" height="16" viewBox="0 0 24 24" style="stroke-width:1.95"><path d="M2.036 12.322a1.012 1.012 0 0 1 0-.639C3.423 7.51 7.36 4.5 12 4.5c4.638 0 8.573 3.007 9.963 7.178.07.207.07.431 0 .639C20.577 16.49 16.64 19.5 12 19.5c-4.638 0-8.573-3.007-9.963-7.178ZM15 12a3 3 0 1 1-6 0 3 3 0 0 1 6 0Z"/></svg></div><div class="edt"><svg class="ico" width="16" height="16" viewBox="0 0 24 24" style="stroke-width:1.95"><path d="m16.862 4.487 1.687-1.688a1.875 1.875 0 1 1 2.652 2.652L10.582 16.07a4.5 4.5 0 0 1-1.897 1.13L6 18l.8-2.685a4.5 4.5 0 0 1 1.13-1.897l8.932-8.931Zm0 0L19.5 7.125M18 14v4.75A2.25 2.25 0 0 1 15.75 21H5.25A2.25 2.25 0 0 1 3 18.75V8.25A2.25 2.25 0 0 1 5.25 6H10"/></svg></div></div>
<div class="row hov" style="top:640px"><div class="cb"></div><div class="nm">Miguel Ortiz</div><div class="em">miguel.ortiz@example.com</div><div class="num ord">28</div><div class="num spn">$6,267.28</div><div class="num pts"><svg width="16" height="16" viewBox="0 0 20 20" fill="currentColor"><path d="M9.049 2.927c.3-.921 1.603-.921 1.902 0l1.07 3.292a1 1 0 00.95.69h3.462c.969 0 1.371 1.24.588 1.81l-2.8 2.034a1 1 0 00-.364 1.118l1.07 3.292c.3.921-.755 1.688-1.54 1.118l-2.8-2.034a1 1 0 00-1.175 0l-2.8 2.034c-.784.57-1.838-.197-1.539-1.118l1.07-3.292a1 1 0 00-.364-1.118L2.98 8.72c-.783-.57-.38-1.81.588-1.81h3.461a1 1 0 00.951-.69l1.07-3.292z"/></svg>470</div><div class="dt">2026/03/29</div><div class="eye"><svg class="ico" width="16" height="16" viewBox="0 0 24 24" style="stroke-width:1.95"><path d="M2.036 12.322a1.012 1.012 0 0 1 0-.639C3.423 7.51 7.36 4.5 12 4.5c4.638 0 8.573 3.007 9.963 7.178.07.207.07.431 0 .639C20.577 16.49 16.64 19.5 12 19.5c-4.638 0-8.573-3.007-9.963-7.178ZM15 12a3 3 0 1 1-6 0 3 3 0 0 1 6 0Z"/></svg></div><div class="edt"><svg class="ico" width="16" height="16" viewBox="0 0 24 24" style="stroke-width:1.95"><path d="m16.862 4.487 1.687-1.688a1.875 1.875 0 1 1 2.652 2.652L10.582 16.07a4.5 4.5 0 0 1-1.897 1.13L6 18l.8-2.685a4.5 4.5 0 0 1 1.13-1.897l8.932-8.931Zm0 0L19.5 7.125M18 14v4.75A2.25 2.25 0 0 1 15.75 21H5.25A2.25 2.25 0 0 1 3 18.75V8.25A2.25 2.25 0 0 1 5.25 6H10"/></svg></div></div>
<div class="row" style="top:703px"><div class="cb"></div><div class="nm">Lucia Flores</div><div class="em">lucia.flores@example.com</div><div class="num ord">35</div><div class="num spn">$6,716.50</div><div class="num pts"><svg width="16" height="16" viewBox="0 0 20 20" fill="currentColor"><path d="M9.049 2.927c.3-.921 1.603-.921 1.902 0l1.07 3.292a1 1 0 00.95.69h3.462c.969 0 1.371 1.24.588 1.81l-2.8 2.034a1 1 0 00-.364 1.118l1.07 3.292c.3.921-.755 1.688-1.54 1.118l-2.8-2.034a1 1 0 00-1.175 0l-2.8 2.034c-.784.57-1.838-.197-1.539-1.118l1.07-3.292a1 1 0 00-.364-1.118L2.98 8.72c-.783-.57-.38-1.81.588-1.81h3.461a1 1 0 00.951-.69l1.07-3.292z"/></svg>730</div><div class="dt">2026/03/29</div><div class="eye"><svg class="ico" width="16" height="16" viewBox="0 0 24 24" style="stroke-width:1.95"><path d="M2.036 12.322a1.012 1.012 0 0 1 0-.639C3.423 7.51 7.36 4.5 12 4.5c4.638 0 8.573 3.007 9.963 7.178.07.207.07.431 0 .639C20.577 16.49 16.64 19.5 12 19.5c-4.638 0-8.573-3.007-9.963-7.178ZM15 12a3 3 0 1 1-6 0 3 3 0 0 1 6 0Z"/></svg></div><div class="edt"><svg class="ico" width="16" height="16" viewBox="0 0 24 24" style="stroke-width:1.95"><path d="m16.862 4.487 1.687-1.688a1.875 1.875 0 1 1 2.652 2.652L10.582 16.07a4.5 4.5 0 0 1-1.897 1.13L6 18l.8-2.685a4.5 4.5 0 0 1 1.13-1.897l8.932-8.931Zm0 0L19.5 7.125M18 14v4.75A2.25 2.25 0 0 1 15.75 21H5.25A2.25 2.25 0 0 1 3 18.75V8.25A2.25 2.25 0 0 1 5.25 6H10"/></svg></div></div>
</div>
</div>
</body>
</html>
